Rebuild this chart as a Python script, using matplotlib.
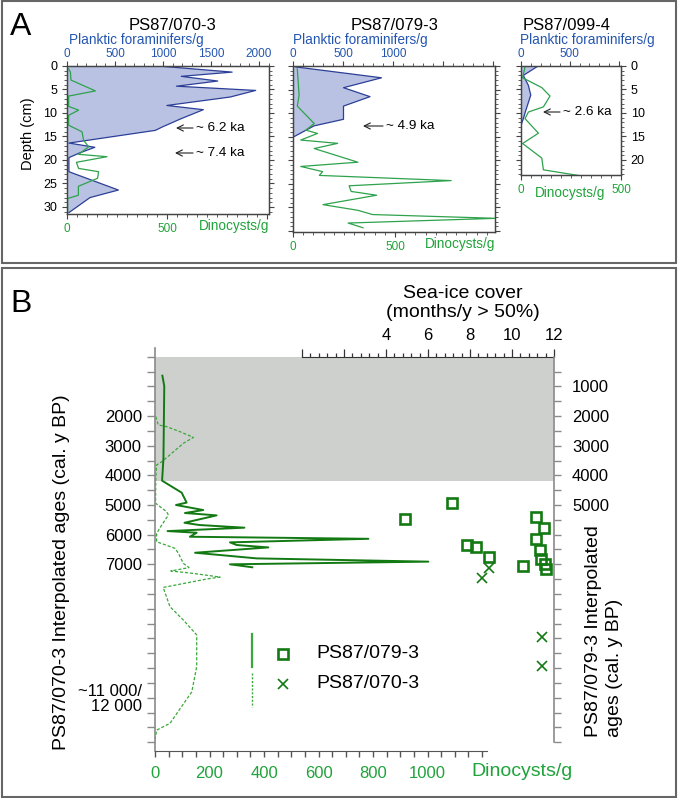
import numpy as np
from matplotlib import pyplot as plt
from matplotlib.patches import Rectangle
from matplotlib.lines import Line2D
from matplotlib.ticker import MultipleLocator, FixedLocator

plt.rcParams['font.family'] = ['Liberation Sans', 'DejaVu Sans']

# ---------------- data, panel A (depth in cm) ----------------
# PS87/070-3
depth_070_pl = [0, 1.3, 2.2, 3.2, 4.3, 5.2, 6.6, 8.4, 9.3, 11.2, 13.0, 13.7, 16.4,
                17.3, 18.6, 19.5, 22.5, 26.4, 28.0, 31.2]
plank_070 = [950, 1720, 1190, 1570, 1140, 1965, 1700, 1040, 1420, 1190, 990, 920, 20,
             290, 120, 20, 20, 535, 240, 20]
depth_070_dn = [0.6, 1.3, 3.0, 5.3, 6.4, 8.6, 9.4, 10.5, 12.6, 14.0, 15.8, 17.2, 18.8,
                19.3, 20.5, 21.8, 22.5, 23.9, 25.6, 27.5, 28.2, 31.0]
dino_070 = [8, 17, 20, 142, 8, 8, 58, 8, 8, 75, 83, 108, 58,
            200, 47, 58, 158, 153, 57, 57, 3, 3]

# PS87/079-3
depth_079_pl = [0.2, 2.5, 4.6, 6.5, 8.5, 11.3, 12.7, 15.1]
plank_079 = [30, 885, 505, 770, 505, 505, 210, 0]
depth_079_dn = [0.6, 6.2, 8.5, 12.2, 13.6, 14.3, 15.7, 16.4, 17.5, 20.4, 21.3, 22.4,
                23.2, 24.3, 25.4, 26.6, 27.4, 29.4, 30.6, 31.5, 32.3, 33.3, 34.3]
dino_079 = [21, 30, 21, 104, 63, 120, 38, 219, 104, 318, 38, 145,
            129, 775, 275, 285, 410, 147, 318, 390, 995, 270, 343]

# PS87/099-4
depth_099_pl = [0.2, 2.0, 4.1, 6.2, 9.4, 11.2, 12.6]
plank_099 = [160, 24, 75, 100, 50, 24, 0]
depth_099_dn = [0.2, 2.5, 4.6, 6.4, 8.7, 9.8, 11.2, 14.3, 16.5, 19.6, 22.1, 23.3]
dino_099 = [20, 8, 104, 145, 112, 37, 20, 87, 8, 104, 112, 287]

# ---------------- data, panel B (ages cal. y BP) ----------------
age_079 = [640, 990, 3430, 4180, 4585, 4920, 5000, 5170, 5270, 5350, 5600, 5675,
           5765, 5880, 5935, 6070, 6140, 6260, 6350, 6430, 6610, 6800, 6910, 7000, 7100]
dino_079_b = [27, 34, 31, 26, 98, 116, 77, 177, 110, 226, 108, 163,
              328, 46, 153, 128, 783, 275, 300, 416, 147, 373, 1003, 275, 357]

age_070 = [2020, 2300, 2360, 2530, 2720, 2920, 3260, 3540, 3650, 4050,
           4940, 5230, 5340, 5730, 5960, 6240, 6460, 6630, 6970, 7110,
           7225, 7300, 7430, 7490, 7780, 8430, 8880, 9380, 10450, 11300,
           12360, 12590, 12920]
dino_070_b = [3, 12, 43, 92, 141, 104, 61, 25, 6, 3,
              2, 43, 49, 21, 6, 6, 73, 86, 104, 125,
              58, 135, 239, 193, 30, 55, 104, 153, 153, 135,
              55, 6, 0]

ice_age_079 = [4920, 5480, 5395, 5786, 6157, 6349, 6430, 6517, 6763, 6830, 6980, 7057, 7168]
ice_079 = [7.13, 4.89, 11.14, 11.54, 11.14, 7.87, 8.29, 11.33, 8.92, 11.37, 11.57, 10.54, 11.62]
ice_age_070 = [7135, 7472, 9440, 10428]
ice_070 = [8.92, 8.56, 11.44, 11.44]

shade_end = 4200

# ---------------- colours ----------------
blue_fill = '#b9c2e3'
blue_edge = '#2c3f97'
blue_txt = '#2456b0'
green_a = '#2ea24c'
green_txt = '#1fa33a'
dark_green = '#137a13'
light_green = '#3aa83a'
axis_col = '#444444'

W, H = 678, 798
fig = plt.figure(figsize=(W / 100, H / 100), dpi=100)


def box(x0, y0, x1, y1):
    return [x0 / W, 1 - y1 / H, (x1 - x0) / W, (y1 - y0) / H]


def fx(x):
    return x / W


def fy(y):
    return 1 - y / H


def core_plot(rect, d_pl, pl, d_dn, dn, pl_max, dn_max, depth_max, pl_labels, dn_labels, side):
    ax = fig.add_axes(box(*rect))
    ax.fill_betweenx(d_pl, 0, pl, facecolor=blue_fill, edgecolor='none')
    ax.plot(pl, d_pl, color=blue_edge, lw=0.9)
    axd = ax.twiny()
    axd.plot(dn, d_dn, color=green_a, lw=0.9)
    ax.xaxis.tick_top()
    axd.xaxis.tick_bottom()

    pt = list(range(0, int(pl_max) + 1, 500))
    ax.set_xticks(pt)
    ax.set_xticklabels([str(v) if v in pl_labels else '' for v in pt])
    ax.xaxis.set_minor_locator(MultipleLocator(100))
    dt = list(range(0, int(dn_max) + 1, 500))
    axd.set_xticks(dt)
    axd.set_xticklabels([str(v) if v in dn_labels else '' for v in dt])
    axd.xaxis.set_minor_locator(MultipleLocator(50))
    ax.yaxis.set_major_locator(MultipleLocator(5))
    ax.yaxis.set_minor_locator(MultipleLocator(1))

    ax.set_xlim(0, pl_max)
    axd.set_xlim(0, dn_max)
    ax.set_ylim(depth_max, 0)

    ax.tick_params(axis='x', which='both', direction='out', colors=axis_col,
                   labelcolor=blue_txt, labelsize=8.5, pad=0.8)
    axd.tick_params(axis='x', which='both', direction='out', colors=axis_col,
                    labelcolor=green_txt, labelsize=8.5, pad=3)
    ax.tick_params(axis='y', which='both', direction='out', left=True, right=True,
                   colors=axis_col, labelcolor='black', labelsize=9,
                   labelleft=(side == 'left'), labelright=(side == 'right'))
    for a in (ax, axd):
        a.tick_params(which='major', length=3.5, width=0.8)
        a.tick_params(which='minor', length=2, width=0.6)
        for s in a.spines.values():
            s.set_color(axis_col)
            s.set_linewidth(0.9)
    return ax


core_plot((67, 66, 269, 214), depth_070_pl, plank_070, depth_070_dn, dino_070,
          2104, 1010, 31.5, [0, 500, 1000, 1500, 2000], [0, 500], 'left')
core_plot((293, 66, 495, 232), depth_079_pl, plank_079, depth_079_dn, dino_079,
          2020, 990, 35.2, [0, 500, 1000], [0, 500], 'none')
core_plot((521, 66, 621, 175), depth_099_pl, plank_099, depth_099_dn, dino_099,
          1024, 500, 23.2, [0, 500], [0, 500], 'right')

fig.text(fx(10), fy(35), 'A', fontsize=23, va='baseline')
fig.text(fx(173), fy(30), 'PS87/070-3', fontsize=12, ha='center', va='baseline')
fig.text(fx(395), fy(30), 'PS87/079-3', fontsize=12, ha='center', va='baseline')
fig.text(fx(567), fy(30), 'PS87/099-4', fontsize=12, ha='center', va='baseline')
for xp in (69, 293, 520):
    fig.text(fx(xp), fy(44), 'Planktic foraminifers/g', fontsize=9.8,
             color=blue_txt, va='baseline')
fig.text(fx(28), fy(134), 'Depth (cm)', fontsize=10.5, rotation=90,
         ha='center', va='center')
fig.text(fx(269), fy(230), 'Dinocysts/g', fontsize=9.8, color=green_txt,
         ha='right', va='baseline')
fig.text(fx(495), fy(248), 'Dinocysts/g', fontsize=9.8, color=green_txt,
         ha='right', va='baseline')
fig.text(fx(570), fy(197), 'Dinocysts/g', fontsize=9.8, color=green_txt,
         ha='center', va='baseline')

# age arrows
for x_head, x_tail, yp, label in [(176, 193, 128, '~ 6.2 ka'), (175, 193, 153, '~ 7.4 ka'),
                                  (363, 383, 126, '~ 4.9 ka'), (543, 560, 112, '~ 2.6 ka')]:
    fig.add_artist(plt.Annotation('', xy=(fx(x_head), fy(yp)), xytext=(fx(x_tail), fy(yp)),
                                  xycoords='figure fraction',
                                  arrowprops=dict(arrowstyle='->', lw=0.8, color='#222222',
                                                  mutation_scale=11, shrinkA=0, shrinkB=0)))
    fig.text(fx(x_tail + 3), fy(yp), label, fontsize=9.7, va='center')

# ---------------- panel B ----------------
axb = fig.add_axes(box(155, 348, 554, 751))
axb.axhspan(0, shade_end, color='#cdd0cd', lw=0, zorder=0)
axb.plot(dino_070_b, age_070, color=light_green, lw=0.9, ls=(0, (2.5, 1.5)))
axb.plot(dino_079_b, age_079, color=dark_green, lw=1.4)

yt = list(range(0, 13001, 500))
ylab = []
for v in yt:
    if 2000 <= v <= 7000 and v % 1000 == 0:
        ylab.append(str(v))
    elif v == 11500:
        ylab.append('~11 000/\n12 000')
    else:
        ylab.append('')
axb.set_yticks(yt)
axb.set_yticklabels(ylab)
for lbl in axb.get_yticklabels():
    lbl.set_linespacing(0.95)
axb.set_xticks(list(range(0, 1001, 200)))
axb.xaxis.set_minor_locator(FixedLocator(list(range(0, 1201, 50))))
axb.tick_params(axis='y', direction='out', length=6, width=1, color='#8a8a8a',
                labelsize=12, pad=3.5)
axb.tick_params(axis='x', which='both', direction='out', length=4.5, width=1,
                color='#555555', labelcolor=green_txt, labelsize=12, pad=6.5)
axb.set_xlim(0, 1464)
axb.set_ylim(13294, -293)
for s in ('top', 'right'):
    axb.spines[s].set_visible(False)
axb.spines['left'].set_color('#8a8a8a')
axb.spines['left'].set_linewidth(1.2)
axb.spines['bottom'].set_color('#555555')
axb.spines['bottom'].set_bounds(0, 1218)

axt = axb.twiny()
axt.plot(ice_079, ice_age_079, ls='none', marker='s', ms=7, mfc='none',
         mec=dark_green, mew=1.9)
axt.plot(ice_070, ice_age_070, ls='none', marker='x', ms=7, mec=dark_green, mew=1.2)
axt.set_xticks(list(range(0, 13, 2)))
axt.set_xticklabels(['', '', '4', '6', '8', '10', '12'])
axt.xaxis.set_minor_locator(FixedLocator(list(np.arange(0, 12.01, 0.4))))
axt.tick_params(axis='x', which='major', direction='out', length=5.5, width=0.9,
                color='#333333', labelsize=12, pad=4)
axt.tick_params(axis='x', which='minor', direction='out', length=3, width=0.9,
                color='#333333')
axt.set_xlim(-7, 12)
for s in ('left', 'right', 'bottom'):
    axt.spines[s].set_visible(False)
axt.spines['top'].set_position(('data', 0))
axt.spines['top'].set_bounds(0, 12)
axt.spines['top'].set_color('#333333')

axr = axb.twinx()
rt = list(range(500, 13001, 500))
axr.set_yticks(rt)
axr.set_yticklabels([str(v) if v in (1000, 2000, 3000, 4000, 5000) else '' for v in rt])
axr.tick_params(axis='y', direction='out', length=5, width=1, color='#8a8a8a',
                labelsize=12, pad=8)
axr.set_ylim(13294, -293)
for s in ('left', 'top', 'bottom'):
    axr.spines[s].set_visible(False)
axr.spines['right'].set_bounds(0, 12990)
axr.spines['right'].set_color('#8a8a8a')
axr.spines['right'].set_linewidth(1.2)

fig.text(fx(10), fy(312), 'B', fontsize=23, va='baseline')
fig.text(fx(463), fy(298), 'Sea-ice cover', fontsize=14, ha='center', va='baseline')
fig.text(fx(463), fy(317), '(months/y > 50%)', fontsize=14, ha='center', va='baseline')
fig.text(fx(61), fy(572), 'PS87/070-3 Interpolated ages (cal. y BP)', fontsize=14,
         rotation=90, ha='center', va='center')
fig.text(fx(604), fy(737), 'PS87/079-3 Interpolated\nages (cal. y BP)', fontsize=14,
         rotation=90, ha='center', va='bottom', multialignment='left', linespacing=1.25)
fig.text(fx(522), fy(771), 'Dinocysts/g', fontsize=14, color=green_txt,
         ha='center', va='center')

# legend, panel B
fig.add_artist(Line2D([fx(252), fx(252)], [fy(634), fy(667)], transform=fig.transFigure,
                      color=light_green, lw=1.6))
fig.add_artist(Line2D([fx(252), fx(252)], [fy(673), fy(707)], transform=fig.transFigure,
                      color=light_green, lw=1.0, ls=(0, (1.5, 1.2))))
fig.add_artist(Line2D([fx(283)], [fy(654)], transform=fig.transFigure, ls='none',
                      marker='s', ms=7, mfc='none', mec=dark_green, mew=1.9))
fig.add_artist(Line2D([fx(283)], [fy(684)], transform=fig.transFigure, ls='none',
                      marker='x', ms=7, mec=dark_green, mew=1.2))
fig.text(fx(316), fy(654), 'PS87/079-3', fontsize=14, va='center')
fig.text(fx(316), fy(684), 'PS87/070-3', fontsize=14, va='center')

# panel frames
fig.add_artist(Rectangle((fx(2), fy(263)), 674 / W, 262 / H, transform=fig.transFigure,
                         fill=False, ec='#666666', lw=1.5))
fig.add_artist(Rectangle((fx(2), fy(797)), 674 / W, 529 / H, transform=fig.transFigure,
                         fill=False, ec='#666666', lw=1.5))

fig.savefig('out.png', dpi=100)
